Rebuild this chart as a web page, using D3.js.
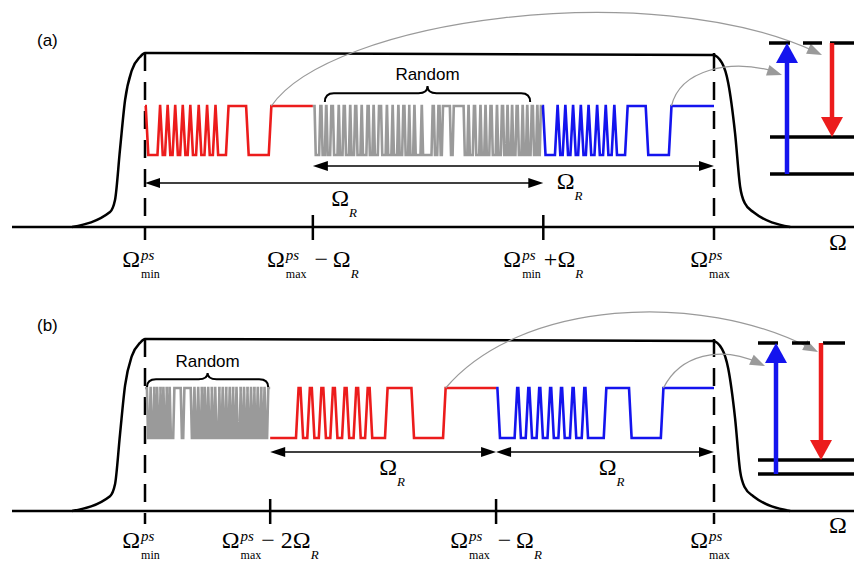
<!DOCTYPE html>
<html>
<head>
<meta charset="utf-8">
<script src="https://cdn.jsdelivr.net/npm/d3@7"></script>
<style>
body { margin: 0; background: #fff; }
svg { display: block; }
</style>
</head>
<body>
<script>
// frequency in units of the pump band: 0 = Omega_min^ps, 1 = Omega_max^ps
var ticksA = [0, 0.295, 0.7, 1];
var ticksB = [0, 0.22, 0.617, 1];

var tickLabelsA = [
    [{t: "Ω"}, {sup: "ps", sub: "min"}],
    [{t: "Ω"}, {sup: "ps", sub: "max"}, {t: "−\u2009Ω", dx: 8}, {r: "R"}],
    [{t: "Ω"}, {sup: "ps", sub: "min"}, {t: "+Ω", dx: 3}, {r: "R"}],
    [{t: "Ω"}, {sup: "ps", sub: "max"}]
];
var tickLabelsB = [
    [{t: "Ω"}, {sup: "ps", sub: "min"}],
    [{t: "Ω"}, {sup: "ps", sub: "max"}, {t: "− 2Ω", dx: 0}, {r: "R"}],
    [{t: "Ω"}, {sup: "ps", sub: "max"}, {t: "−\u2009Ω", dx: 8}, {r: "R"}],
    [{t: "Ω"}, {sup: "ps", sub: "max"}]
];

// pump spectrum envelope: [Omega, relative amplitude]
var envelope = [[-0.128, 0], [-0.0615, 0.086], [-0.0527, 0.155], [-0.044, 0.443], [-0.035, 0.73],
    [-0.023, 0.902], [-0.0088, 0.977], [0, 1], [0.998, 0.989], [1.014, 0.943], [1.025, 0.828],
    [1.037, 0.54], [1.046, 0.23], [1.054, 0.138], [1.069, 0.086], [1.134, 0]];

// pulse trains: "high" intervals as fractions of their own band
var pulsesA = [[0, 0.012], [0.082, 0.098], [0.127, 0.143], [0.172, 0.188], [0.217, 0.233], [0.262, 0.278],
    [0.312, 0.328], [0.362, 0.378], [0.412, 0.428], [0.49, 0.61], [0.745, 1]];
var pulsesRedB = [[0.12, 0.14], [0.17, 0.19], [0.221, 0.241], [0.272, 0.292], [0.324, 0.344],
    [0.375, 0.395], [0.426, 0.446], [0.514, 0.631], [0.771, 1]];
var pulsesBlueB = [[0, 0.012], [0.091, 0.108], [0.142, 0.159], [0.192, 0.209], [0.242, 0.259],
    [0.292, 0.309], [0.345, 0.362], [0.399, 0.416], [0.5, 0.616], [0.762, 1]];
var randomA = [[0, 0.01], [0.03, 0.04], [0.055, 0.062], [0.078, 0.09], [0.11, 0.116], [0.132, 0.142],
    [0.16, 0.166], [0.182, 0.192], [0.21, 0.216], [0.236, 0.246], [0.262, 0.268], [0.286, 0.3],
    [0.32, 0.326], [0.345, 0.351], [0.37, 0.376], [0.392, 0.402], [0.418, 0.423], [0.44, 0.446],
    [0.472, 0.478], [0.52, 0.53], [0.545, 0.555], [0.565, 0.6], [0.612, 0.66], [0.676, 0.682], [0.7, 0.71],
    [0.728, 0.734], [0.75, 0.756], [0.772, 0.782], [0.8, 0.806], [0.822, 0.832], [0.846, 0.852],
    [0.866, 0.872], [0.886, 0.896], [0.912, 0.918], [0.932, 0.938], [0.952, 0.962], [0.976, 0.982], [0.992, 1]];
var randomB = [[0, 0.02], [0.04, 0.05], [0.07, 0.078], [0.092, 0.102], [0.12, 0.128], [0.142, 0.152],
    [0.17, 0.178], [0.192, 0.202], [0.23, 0.29], [0.31, 0.37], [0.39, 0.4], [0.42, 0.43], [0.45, 0.458],
    [0.472, 0.482], [0.5, 0.51], [0.53, 0.538], [0.556, 0.566], [0.59, 0.598], [0.616, 0.626],
    [0.645, 0.653], [0.672, 0.682], [0.7, 0.708], [0.726, 0.736], [0.76, 0.768], [0.786, 0.796],
    [0.815, 0.823], [0.842, 0.852], [0.87, 0.878], [0.896, 0.906], [0.925, 0.933], [0.95, 0.96], [0.98, 1]];

var RED = "#ec1c1c", BLUE = "#1414ee", GREY = "#9a9a9a";
var SERIF = "'Liberation Serif', 'Times New Roman', serif";
var SANS = "'Liberation Sans', Arial, sans-serif";

var panels = [
    {
        name: "(a)", nameY: 46, axisY: 227, envH: 174, hi: 106, lo: 155,
        ticks: ticksA, labels: tickLabelsA, labelY: 267,
        trains: [
            {band: [ticksA[0], ticksA[1]], pulses: pulsesA, color: RED, w: 2.6, ramp: 2.6},
            {band: [ticksA[1], 0.698], pulses: randomA, color: GREY, w: 2.6, ramp: 1.2},
            {band: [0.698, ticksA[3]], pulses: pulsesA, color: BLUE, w: 2.6, ramp: 2.6}
        ],
        random: {train: 1, inset: 12, y0: 102, h: 16, textY: 80},
        spans: [
            {from: ticksA[0], to: ticksA[2], y: 183, at: 0.5},
            {from: ticksA[1], to: ticksA[3], y: 166, at: 0.64}
        ],
        links: [
            {train: 0, c1: [330, 20], c2: [650, -25], end: [822, 55]},
            {train: 2, c1: [680, 70], c2: [730, 58], end: [782, 75]}
        ],
        levels: {top: 43, mid: 137, bot: 174, topSegs: [[769, 790], [803, 822], [830, 854]], left: 770, up: 787, down: 832},
        omegaY: 250
    },
    {
        name: "(b)", nameY: 331, axisY: 511, envH: 172, hi: 388, lo: 438,
        ticks: ticksB, labels: tickLabelsB, labelY: 548,
        trains: [
            {band: [ticksB[0], ticksB[1]], pulses: randomB, color: GREY, w: 2.6, ramp: 1.2},
            {band: [ticksB[1], ticksB[2]], pulses: pulsesRedB, color: RED, w: 2.6, ramp: 2.6},
            {band: [ticksB[2], ticksB[3]], pulses: pulsesBlueB, color: BLUE, w: 2.6, ramp: 2.6}
        ],
        random: {train: 0, inset: 2, y0: 387, h: 14, textY: 367},
        spans: [
            {from: ticksB[1], to: ticksB[2], y: 452, at: 0.54},
            {from: ticksB[2], to: ticksB[3], y: 452, at: 0.53}
        ],
        links: [
            {train: 1, c1: [520, 300], c2: [700, 290], end: [818, 352]},
            {train: 2, c1: [680, 355], c2: [720, 345], end: [765, 366]}
        ],
        levels: {top: 343, mid: 460, bot: 474, topSegs: [[758, 778], [792, 810], [823, 845]], left: 758, up: 776, down: 821},
        omegaY: 533
    }
];

var svg = d3.select("body").append("svg")
    .attr("width", 854)
    .attr("height", 564);

var x = d3.scaleLinear().domain([0, 1]).range([145, 714]);

function bandX(band, f) {
    return x(band[0] + f * (band[1] - band[0]));
}

function trainPoints(t) {
    var pts = [];
    var hs = t.pulses, r = t.ramp / 2;
    if (hs[0][0] > 0) pts.push([bandX(t.band, 0), 0]);
    hs.forEach(function (h) {
        if (h[0] <= 0) pts.push([bandX(t.band, 0), 1]);
        else {
            pts.push([bandX(t.band, h[0]) - r, 0]);
            pts.push([bandX(t.band, h[0]) + r, 1]);
        }
        if (h[1] >= 1) pts.push([bandX(t.band, 1), 1]);
        else {
            pts.push([bandX(t.band, h[1]) - r, 1]);
            pts.push([bandX(t.band, h[1]) + r, 0]);
        }
    });
    if (hs[hs.length - 1][1] < 1) pts.push([bandX(t.band, 1), 0]);
    return pts;
}

// Omega with stacked sup/sub, centred on cx
function mathLabel(g, parts, cx, y) {
    var lg = g.append("g");
    var cur = 0;
    parts.forEach(function (p) {
        if (p.dx) cur += p.dx;
        if (p.t) {
            var t = lg.append("text").attr("x", cur).attr("y", 0)
                .style("font-family", SERIF).style("font-size", "24px").text(p.t);
            cur += t.node().getComputedTextLength();
        } else if (p.r) {
            var tr = lg.append("text").attr("x", cur).attr("y", 11)
                .style("font-family", SERIF).style("font-size", "13px").style("font-style", "italic").text(p.r);
            cur += tr.node().getComputedTextLength();
        } else {
            var a = lg.append("text").attr("x", cur + 1).attr("y", -7)
                .style("font-family", SERIF).style("font-size", "15px").style("font-style", "italic").text(p.sup);
            var b = lg.append("text").attr("x", cur + 1).attr("y", 11)
                .style("font-family", SERIF).style("font-size", "12px").text(p.sub);
            cur += Math.max(a.node().getComputedTextLength(), b.node().getComputedTextLength()) + 1;
        }
    });
    var bb = lg.node().getBBox();
    lg.attr("transform", "translate(" + (cx - bb.x - bb.width / 2) + "," + y + ")");
}

function head(g, tip, dir, len, half, color) {
    var ux = dir[0], uy = dir[1];
    var n = Math.sqrt(ux * ux + uy * uy);
    ux /= n; uy /= n;
    var bx = tip[0] - ux * len, by = tip[1] - uy * len;
    g.append("path")
        .attr("d", "M" + tip[0] + "," + tip[1] +
            "L" + (bx - uy * half) + "," + (by + ux * half) +
            "L" + (bx + uy * half) + "," + (by - ux * half) + "Z")
        .attr("fill", color);
}

function brace(g, x0, x1, y0, h) {
    var xt = (x0 + x1) / 2, ym = y0 - h * 0.55, yt = y0 - h, r = 9;
    g.append("path")
        .attr("d", "M" + x0 + "," + y0 + "Q" + x0 + "," + ym + " " + (x0 + r) + "," + ym +
            "L" + (xt - r) + "," + ym + "Q" + xt + "," + ym + " " + xt + "," + yt +
            "Q" + xt + "," + ym + " " + (xt + r) + "," + ym +
            "L" + (x1 - r) + "," + ym + "Q" + x1 + "," + ym + " " + x1 + "," + y0)
        .attr("fill", "none")
        .attr("stroke", "#000")
        .attr("stroke-width", 2);
}

function drawPanel(p) {
    var g = svg.append("g");
    var amp = d3.scaleLinear().domain([0, 1]).range([p.axisY, p.axisY - p.envH]);
    var lvl = d3.scaleLinear().domain([0, 1]).range([p.lo, p.hi]);
    var last = p.ticks.length - 1;

    g.append("text")
        .attr("x", 37).attr("y", p.nameY)
        .style("font-family", SANS).style("font-size", "17px")
        .text(p.name);

    // frequency axis
    g.append("line")
        .attr("x1", 12).attr("y1", p.axisY)
        .attr("x2", 854).attr("y2", p.axisY)
        .attr("stroke", "#000").attr("stroke-width", 2.5);

    // pump spectrum
    g.append("path")
        .datum(envelope)
        .attr("d", d3.line().x(function (d) { return x(d[0]); }).y(function (d) { return amp(d[1]); }).curve(d3.curveMonotoneX))
        .attr("fill", "none")
        .attr("stroke", "#000")
        .attr("stroke-width", 2.5);

    g.selectAll(".tick").data(p.ticks).enter().append("line")
        .attr("x1", function (d) { return x(d); })
        .attr("x2", function (d) { return x(d); })
        .attr("y1", function (d, i) { return (i == 0 || i == last) ? amp(1) : p.axisY - 12; })
        .attr("y2", p.axisY + 13)
        .attr("stroke", "#000")
        .attr("stroke-width", 2.5)
        .attr("stroke-dasharray", function (d, i) { return (i == 0 || i == last) ? "18,11" : null; });

    p.ticks.forEach(function (d, i) {
        mathLabel(g, p.labels[i], x(d) - (i == 0 || i == last ? 4 : 0), p.labelY);
    });

    g.append("text")
        .attr("x", 838).attr("y", p.omegaY)
        .attr("text-anchor", "middle")
        .style("font-family", SERIF).style("font-size", "24px")
        .text("Ω");

    // pulse trains
    var line = d3.line().x(function (d) { return d[0]; }).y(function (d) { return lvl(d[1]); });
    p.trains.forEach(function (t) {
        g.append("path")
            .datum(trainPoints(t))
            .attr("d", line)
            .attr("fill", "none")
            .attr("stroke", t.color)
            .attr("stroke-width", t.w)
            .attr("stroke-linejoin", "miter");
    });

    // "Random" brace
    var rt = p.trains[p.random.train];
    var bx0 = bandX(rt.band, 0) + p.random.inset, bx1 = bandX(rt.band, 1) - p.random.inset;
    brace(g, bx0, bx1, p.random.y0, p.random.h);
    g.append("text")
        .attr("x", (bx0 + bx1) / 2).attr("y", p.random.textY)
        .attr("text-anchor", "middle")
        .style("font-family", SANS).style("font-size", "17px")
        .text("Random");

    // Omega_R spans
    p.spans.forEach(function (s) {
        var xa = x(s.from), xb = x(s.to);
        g.append("line")
            .attr("x1", xa + 10).attr("y1", s.y)
            .attr("x2", xb - 10).attr("y2", s.y)
            .attr("stroke", "#000").attr("stroke-width", 1.5);
        head(g, [xa, s.y], [-1, 0], 15, 5, "#000");
        head(g, [xb, s.y], [1, 0], 15, 5, "#000");
        mathLabel(g, [{t: "Ω"}, {r: "R"}], xa + s.at * (xb - xa), s.y + 23);
    });

    // grey links to the level scheme
    p.links.forEach(function (l) {
        var t = p.trains[l.train];
        var lastHigh = t.pulses[t.pulses.length - 1][0];
        var sx = bandX(t.band, lastHigh) + t.ramp / 2, sy = lvl(1);
        var path = d3.path();
        path.moveTo(sx, sy);
        path.bezierCurveTo(l.c1[0], l.c1[1], l.c2[0], l.c2[1], l.end[0] - 6, l.end[1] - 3);
        g.append("path")
            .attr("d", path.toString())
            .attr("fill", "none")
            .attr("stroke", GREY)
            .attr("stroke-width", 1.2);
        head(g, l.end, [l.end[0] - l.c2[0], l.end[1] - l.c2[1]], 15, 5.5, GREY);
    });

    // level scheme
    var e = p.levels;
    e.topSegs.forEach(function (s) {
        g.append("line")
            .attr("x1", s[0]).attr("y1", e.top)
            .attr("x2", s[1]).attr("y2", e.top)
            .attr("stroke", "#000").attr("stroke-width", 3.5);
    });
    [e.mid, e.bot].forEach(function (yy) {
        g.append("line")
            .attr("x1", e.left).attr("y1", yy)
            .attr("x2", 854).attr("y2", yy)
            .attr("stroke", "#000").attr("stroke-width", 3.5);
    });
    g.append("line")
        .attr("x1", e.up).attr("y1", e.bot)
        .attr("x2", e.up).attr("y2", e.top + 18)
        .attr("stroke", BLUE).attr("stroke-width", 4.5);
    head(g, [e.up, e.top], [0, -1], 20, 11, BLUE);
    g.append("line")
        .attr("x1", e.down).attr("y1", e.top)
        .attr("x2", e.down).attr("y2", e.mid - 18)
        .attr("stroke", RED).attr("stroke-width", 4.5);
    head(g, [e.down, e.mid], [0, 1], 20, 11, RED);
}

panels.forEach(drawPanel);
</script>
</body>
</html>
